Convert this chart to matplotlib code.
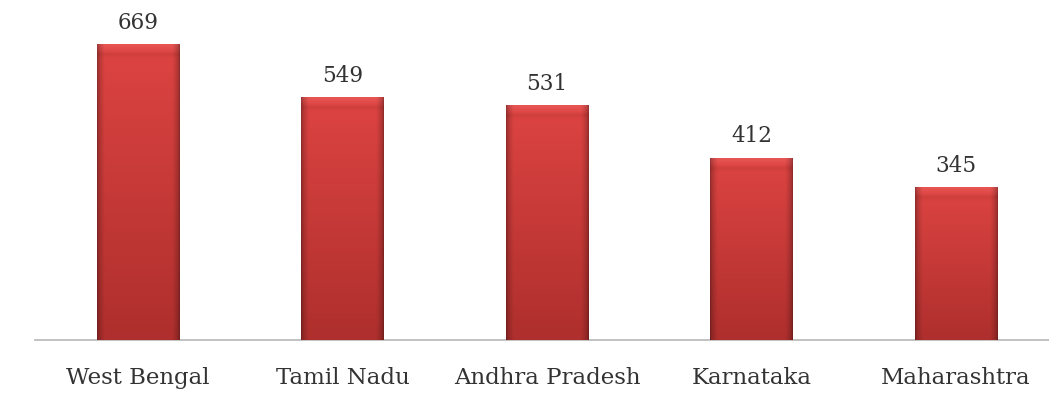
import numpy as np
import matplotlib
matplotlib.use("Agg")
import matplotlib.pyplot as plt
from matplotlib.colors import to_rgb

states = ["West Bengal", "Tamil Nadu", "Andhra Pradesh", "Karnataka", "Maharashtra"]
counts = [669, 549, 531, 412, 345]

W, H = 1049, 406
fig = plt.figure(figsize=(W / 100, H / 100), dpi=100)
ax = fig.add_axes([35 / W, 65 / H, 1014 / W, 341 / H])

x = np.arange(len(states))
bars = ax.bar(x, counts, width=0.405, color="#c83232", edgecolor="none", zorder=2)

XLIM = (-0.504, 4.455)
YLIM = (0, 773)
ppu = 341 / YLIM[1]  # pixels per data unit (vertical)

top_c = np.array(to_rgb("#dd4442"))
bot_c = np.array(to_rgb("#ae2f2d"))
for b in bars:
    x0, w, h = b.get_x(), b.get_width(), b.get_height()
    ny, nx = 300, 90
    v = np.linspace(0, 1, ny)[:, None]
    u = np.linspace(0, 1, nx)[None, :]
    base = top_c[None, None, :] + (bot_c - top_c)[None, None, :] * v[..., None]
    edge = np.minimum(u, 1 - u)
    f = 0.66 + 0.34 * np.clip(edge / 0.09, 0, 1) ** 0.6
    img = base * f[..., None]
    # top bevel highlight
    depth_px = v * h * ppu
    m = np.clip(1 - depth_px / 9.0, 0, 1) ** 1.0
    light = np.array(to_rgb("#f06462"))
    img = img * (1 - 0.55 * m[..., None]) + light[None, None, :] * 0.55 * m[..., None] * f[..., None]
    ln = np.exp(-((depth_px - 10.0) / 2.5) ** 2)
    img = img * (1 - 0.05 * ln[..., None])
    img = np.clip(np.broadcast_to(img, (ny, nx, 3)), 0, 1)
    ax.imshow(img, extent=(x0, x0 + w, 0, h), aspect="auto", zorder=3,
              clip_path=b, interpolation="bilinear")

for xi, c in zip(x, counts):
    ax.annotate(str(c), (xi, c), xytext=(0, 17 * 0.72), textcoords="offset points",
                ha="center", va="baseline", fontsize=15.5, family="DejaVu Serif",
                color="#333333")

ax.set_xlim(*XLIM)
ax.set_ylim(*YLIM)
ax.set_xticks(x)
ax.set_xticklabels(states, fontsize=16.5, family="DejaVu Serif", color="#333333")
ax.tick_params(axis="x", length=0, pad=19)
ax.set_yticks([])
for s in ["top", "left", "right"]:
    ax.spines[s].set_visible(False)
ax.spines["bottom"].set_color("#bdbdbd")
ax.spines["bottom"].set_linewidth(1.3)

fig.savefig("out.png", dpi=100)
